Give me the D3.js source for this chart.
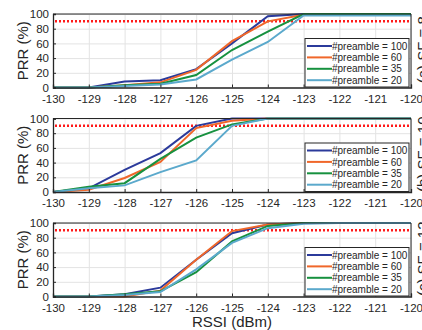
<!DOCTYPE html>
<html>
<head>
<meta charset="utf-8">
<script src="https://cdn.jsdelivr.net/npm/d3@7"></script>
<style>
  body { margin: 0; background: #fff; }
  text { font-family: "Liberation Sans", Arial, sans-serif; }
</style>
</head>
<body>
<div class="chart"></div>
<script>
// data
var rssi = [-130, -129, -128, -127, -126, -125, -124, -123, -122, -121, -120];
var seriesNames = ["#preamble = 100", "#preamble = 60", "#preamble = 35", "#preamble = 20"];
var colors = ["#2b3a9b", "#f0672a", "#17913f", "#5ba9cc"];
var panelLabels = ["(a) SF = 8", "(b) SF = 10", "(c) SF = 12"];
var yTicks = [0, 20, 40, 60, 80, 100];
var threshold = 90;

// SF = 8
var sf8_p100 = [0, 0, 8, 10, 25, 60, 97, 100, 100, 100, 100];
var sf8_p60  = [0, 0, 3, 7, 24, 63, 90, 99, 100, 100, 100];
var sf8_p35  = [0, 0, 3, 5, 17, 51, 76, 100, 100, 100, 100];
var sf8_p20  = [0, 0, 2, 4, 11, 38, 62, 98, 98, 98, 98];
// SF = 10
var sf10_p100 = [0, 5, 30, 53, 90, 100, 100, 100, 100, 100, 100];
var sf10_p60  = [0, 3, 19, 41, 87, 97, 100, 100, 100, 100, 100];
var sf10_p35  = [0, 7, 12, 45, 74, 92, 100, 100, 100, 100, 100];
var sf10_p20  = [0, 5, 9, 27, 43, 90, 100, 100, 100, 100, 100];
// SF = 12
var sf12_p100 = [0, 0, 3, 12, 50, 86, 98, 100, 100, 100, 100];
var sf12_p60  = [0, 0, 0, 8, 50, 89, 98, 100, 100, 100, 100];
var sf12_p35  = [0, 0, 3, 7, 33, 75, 96, 100, 100, 100, 100];
var sf12_p20  = [0, 0, 2, 6, 37, 73, 93, 99, 100, 100, 100];

var panels = [
  [sf8_p100, sf8_p60, sf8_p35, sf8_p20],
  [sf10_p100, sf10_p60, sf10_p35, sf10_p20],
  [sf12_p100, sf12_p60, sf12_p35, sf12_p20]
];

var svgWidth = 422;
var svgHeight = 330;
var left = 53, right = 411;
var tops = [14, 118.5, 223];
var plotH = 73.5;

var svg = d3.select(".chart")
  .append("svg")
  .attr("width", svgWidth)
  .attr("height", svgHeight);

var x = d3.scaleLinear().domain([-130, -120]).range([left, right]);

panels.forEach(function(series, p) {
  var top = tops[p];
  var y = d3.scaleLinear().domain([0, 100]).range([top + plotH, top]);
  var g = svg.append("g");

  // grid
  g.append("g")
    .attr("transform", "translate(0," + (top + plotH) + ")")
    .call(d3.axisBottom(x).tickValues(rssi).tickSize(-plotH).tickFormat(""))
    .call(function(s) {
      s.select(".domain").remove();
      s.selectAll("line").attr("stroke", "#e3e3e3");
    });
  g.append("g")
    .attr("transform", "translate(" + left + ",0)")
    .call(d3.axisLeft(y).tickValues(yTicks).tickSize(-(right - left)).tickFormat(""))
    .call(function(s) {
      s.select(".domain").remove();
      s.selectAll("line").attr("stroke", "#e3e3e3");
    });

  // threshold
  g.append("line")
    .attr("x1", x(-130) + 2).attr("x2", x(-120))
    .attr("y1", y(threshold)).attr("y2", y(threshold))
    .attr("stroke", "#ff1a1a")
    .attr("stroke-width", 2.5)
    .attr("stroke-dasharray", "2,2");

  // lines
  var lineFunc = d3.line()
    .x(function(d, i) { return x(rssi[i]); })
    .y(function(d) { return y(d); });

  series.forEach(function(vals, k) {
    g.append("path")
      .attr("d", lineFunc(vals))
      .attr("stroke", colors[k])
      .attr("stroke-width", 2)
      .attr("fill", "none");
  });

  // axes with inward ticks
  var xa = g.append("g")
    .attr("transform", "translate(0," + (top + plotH) + ")")
    .call(d3.axisBottom(x).tickValues(rssi).tickSize(-3).tickPadding(7).tickFormat(d3.format("d")));
  var ya = g.append("g")
    .attr("transform", "translate(" + left + ",0)")
    .call(d3.axisLeft(y).tickValues(yTicks).tickSize(-3).tickPadding(4));
  [xa, ya].forEach(function(a) {
    a.select(".domain").attr("stroke", "#262626").attr("stroke-width", 1.3);
    a.selectAll("line").attr("stroke", "#262626");
    a.selectAll("text").attr("fill", "#262626").style("font-size", "11.5px");
  });
  xa.selectAll("text").text(function(d) { return String(d); });

  // top / right box
  g.append("path")
    .attr("d", "M" + left + "," + top + "H" + right + "V" + (top + plotH))
    .attr("stroke", "#262626")
    .attr("fill", "none");

  // y label
  g.append("text")
    .attr("transform", "translate(" + 28 + "," + (top + plotH / 2) + ") rotate(-90)")
    .attr("text-anchor", "middle")
    .style("font-size", "15px")
    .attr("fill", "#262626")
    .text("PRR (%)");

  // panel label, mostly off the right edge as in the figure
  g.append("text")
    .attr("transform", "translate(" + 428 + "," + (top + plotH / 2 - 1) + ") rotate(-90)")
    .attr("text-anchor", "middle")
    .style("font-size", "15px")
    .attr("fill", "#262626")
    .text(panelLabels[p]);

  // legend
  var lx = 305, ly = top + 24.5, lw = 104, lh = 48.5;
  var lg = g.append("g");
  lg.append("rect")
    .attr("x", lx).attr("y", ly).attr("width", lw).attr("height", lh)
    .attr("fill", "#fff").attr("stroke", "#262626").attr("stroke-width", 1);
  seriesNames.forEach(function(name, k) {
    var yy = ly + 7.5 + k * 11.4;
    lg.append("line")
      .attr("x1", lx + 2).attr("x2", lx + 27)
      .attr("y1", yy).attr("y2", yy)
      .attr("stroke", colors[k]).attr("stroke-width", 2);
    lg.append("text")
      .attr("x", lx + 27).attr("y", yy + 3.6)
      .style("font-size", "10px")
      .attr("fill", "#262626")
      .text(name);
  });
});

svg.append("text")
  .attr("x", 232).attr("y", 327)
  .attr("text-anchor", "middle")
  .style("font-size", "15px")
  .attr("fill", "#262626")
  .text("RSSI (dBm)");
</script>
</body>
</html>
